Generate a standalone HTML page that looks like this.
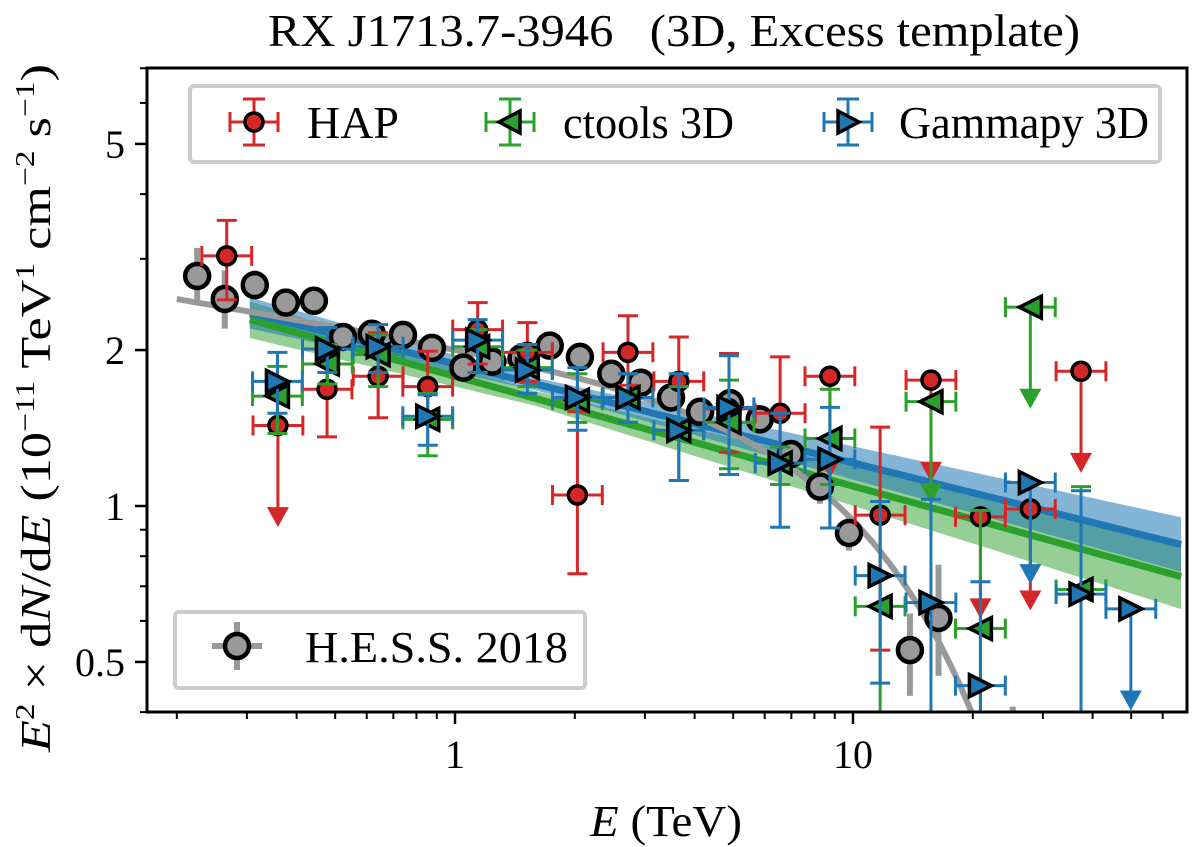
<!DOCTYPE html>
<html><head><meta charset="utf-8"><style>
html,body{margin:0;background:#fff;overflow:hidden;width:1200px;height:847px}
svg{display:block}
text{font-family:"Liberation Serif",serif;fill:#000}
</style></head><body>
<div style="position:relative;width:1200px;height:847px;overflow:hidden">
<svg id="chart" width="1200" height="847" viewBox="0 0 1200 847" xmlns="http://www.w3.org/2000/svg" style="position:absolute;left:0;top:0">
<text x="268" y="46" font-size="46" textLength="812" lengthAdjust="spacingAndGlyphs" xml:space="preserve">RX J1713.7-3946   (3D, Excess template)</text>
<g id="plot"></g>
<g id="axes"></g>
</svg>
<svg width="1200" height="847" style="position:absolute;left:0;top:0">
  <text x="590" y="836" font-size="44" textLength="152" lengthAdjust="spacingAndGlyphs"><tspan font-style="italic">E</tspan> (TeV)</text>
  <text transform="translate(50,752) rotate(-90)" font-size="42" textLength="688" lengthAdjust="spacingAndGlyphs"><tspan font-style="italic">E</tspan><tspan font-size="27" dy="-16">2</tspan><tspan dy="16"> × d</tspan><tspan font-style="italic">N</tspan>/d<tspan font-style="italic">E</tspan>  (10<tspan font-size="27" dy="-16">−11</tspan><tspan dy="16"> TeV</tspan><tspan font-size="27" dy="-16">1</tspan><tspan dy="16"> cm</tspan><tspan font-size="27" dy="-16">−2</tspan><tspan dy="16"> s</tspan><tspan font-size="27" dy="-16">−1</tspan><tspan dy="16">)</tspan></text>
  <g>
    <rect x="190" y="86" width="970" height="76" rx="4" fill="#fff" fill-opacity="0.8" stroke="#ccc" stroke-width="4"/>
    <g>
      <line x1="230" x2="278" y1="122" y2="122" stroke="#d62728" stroke-width="3"/>
      <line x1="230" x2="230" y1="112" y2="132" stroke="#d62728" stroke-width="3"/>
      <line x1="278" x2="278" y1="112" y2="132" stroke="#d62728" stroke-width="3"/>
      <line x1="254" x2="254" y1="99" y2="145" stroke="#d62728" stroke-width="3"/>
      <line x1="243" x2="265" y1="99" y2="99" stroke="#d62728" stroke-width="3"/>
      <line x1="243" x2="265" y1="145" y2="145" stroke="#d62728" stroke-width="3"/>
      <circle cx="254" cy="122" r="9" fill="#d62728" stroke="#000" stroke-width="3.5"/>
      <text x="307" y="138" font-size="46" textLength="92" lengthAdjust="spacingAndGlyphs">HAP</text>
    </g>
    <g>
      <line x1="486" x2="534" y1="122" y2="122" stroke="#2ca02c" stroke-width="3"/>
      <line x1="486" x2="486" y1="112" y2="132" stroke="#2ca02c" stroke-width="3"/>
      <line x1="534" x2="534" y1="112" y2="132" stroke="#2ca02c" stroke-width="3"/>
      <line x1="510" x2="510" y1="99" y2="145" stroke="#2ca02c" stroke-width="3"/>
      <line x1="499" x2="521" y1="99" y2="99" stroke="#2ca02c" stroke-width="3"/>
      <line x1="499" x2="521" y1="145" y2="145" stroke="#2ca02c" stroke-width="3"/>
      <polygon points="499,122 520,111 520,133" fill="#2ca02c" stroke="#000" stroke-width="3.5"/>
      <text x="563" y="138" font-size="46" textLength="171" lengthAdjust="spacingAndGlyphs">ctools 3D</text>
    </g>
    <g>
      <line x1="824" x2="872" y1="122" y2="122" stroke="#1f77b4" stroke-width="3"/>
      <line x1="824" x2="824" y1="112" y2="132" stroke="#1f77b4" stroke-width="3"/>
      <line x1="872" x2="872" y1="112" y2="132" stroke="#1f77b4" stroke-width="3"/>
      <line x1="848" x2="848" y1="99" y2="145" stroke="#1f77b4" stroke-width="3"/>
      <line x1="837" x2="859" y1="99" y2="99" stroke="#1f77b4" stroke-width="3"/>
      <line x1="837" x2="859" y1="145" y2="145" stroke="#1f77b4" stroke-width="3"/>
      <polygon points="859,122 838,111 838,133" fill="#1f77b4" stroke="#000" stroke-width="3.5"/>
      <text x="899" y="138" font-size="46" textLength="250" lengthAdjust="spacingAndGlyphs">Gammapy 3D</text>
    </g>
  </g>
  <g>
    <rect x="175" y="612" width="410" height="76" rx="4" fill="#fff" fill-opacity="0.8" stroke="#ccc" stroke-width="4"/>
    <g>
      <line x1="212" x2="262" y1="646" y2="646" stroke="#999" stroke-width="6"/>
      <line x1="237" x2="237" y1="622" y2="670" stroke="#999" stroke-width="6"/>
      <circle cx="237" cy="646" r="12" fill="#999" stroke="#000" stroke-width="4.5"/>
      <text x="305" y="662" font-size="44" textLength="263" lengthAdjust="spacingAndGlyphs">H.E.S.S. 2018</text>
    </g>
  </g>
</svg>
</div>
<script>
// ---- data ----
const hessE = [0.225,0.264,0.314,0.376,0.442,0.523,0.618,0.740,0.875,1.05,1.24,1.47,1.73,2.06,2.47,2.93,3.49,4.13,4.91,5.83,6.98,8.26,9.77,13.9,16.4,25.2];
const hessF = [2.78,2.51,2.67,2.47,2.49,2.12,2.15,2.14,2.02,1.85,1.90,1.93,2.04,1.94,1.80,1.73,1.62,1.52,1.58,1.47,1.26,1.09,0.887,0.527,0.608,0.30];
const hessLo = [2.45,2.20,2.50,2.35,2.38,2.05,2.07,2.06,1.95,1.79,1.83,1.86,1.96,1.87,1.73,1.66,1.55,1.45,1.50,1.39,1.18,1.01,0.82,0.43,0.47,0.30];
const hessHi = [3.15,2.85,2.85,2.60,2.60,2.20,2.23,2.22,2.10,1.91,1.97,2.00,2.12,2.01,1.87,1.80,1.69,1.59,1.66,1.55,1.34,1.17,0.95,0.62,0.77,0.41];

const hapE = [0.267,0.359,0.477,0.641,0.854,1.14,1.52,2.03,2.72,3.65,4.88,6.56,8.75,11.7,15.7,20.9,27.9,37.4];
const hapF = [3.04,1.43,1.68,1.78,1.70,2.19,1.98,1.05,1.98,1.74,1.54,1.51,1.78,0.96,1.75,0.953,0.987,1.82];
const hapLo = [2.50,null,1.36,1.48,1.45,1.88,1.74,0.74,1.71,1.43,1.27,1.10,null,0.527,null,null,null,null];
const hapHi = [3.56,null,2.05,2.16,1.99,2.47,2.26,1.52,2.33,2.12,1.97,1.94,null,1.42,null,null,null,null];
const hapUL = [0,1,0,0,0,0,0,0,0,0,0,0,1,0,1,1,1,1];

const ctE = [0.358,0.478,0.641,0.854,1.14,1.52,2.03,2.72,3.65,4.88,6.56,8.75,11.7,15.7,20.9,27.9,37.4];
const ctF = [1.63,1.88,1.96,1.47,2.03,1.85,1.60,1.62,1.40,1.45,1.21,1.35,0.64,1.59,0.58,2.42,0.69];
const ctLo = [1.38,1.72,1.70,1.25,1.81,1.70,1.45,1.45,1.12,1.18,1.10,1.10,0.30,null,0.30,null,0.30];
const ctHi = [1.86,2.04,2.14,1.65,2.19,2.00,1.80,1.80,1.70,1.75,1.30,1.68,1.02,null,0.98,null,1.09];
const ctUL = [0,0,0,0,0,0,0,0,0,0,0,0,0,1,0,1,0];

const gpE = [0.358,0.478,0.641,0.854,1.14,1.52,2.03,2.72,3.65,4.88,6.56,8.75,11.7,15.7,20.9,27.9,37.4,49.9];
const gpF = [1.74,2.01,2.03,1.49,2.09,1.83,1.62,1.62,1.40,1.55,1.21,1.23,0.734,0.651,0.45,1.11,0.676,0.633];
const gpLo = [1.51,1.81,1.81,1.31,1.81,1.65,1.40,1.45,1.12,1.15,0.91,0.907,0.455,0.30,0.30,null,0.30,null];
const gpHi = [1.98,2.21,2.24,1.64,2.29,2.05,1.85,1.80,1.80,1.95,1.51,1.55,1.02,1.03,0.714,null,1.07,null];
const gpUL = [0,0,0,0,0,0,0,0,0,0,0,0,0,0,0,1,0,1];

const blueModel = {norm:1.88, index:0.191};
const greenModel = {norm:1.78, index:0.212};
const hessModel = {norm:2.04, index:0.13, ecut:17, beta:1.39};

const xTicks = [1,10];
const xTickLabels = ["1","10"];
const yTicks = [0.5,1,2,5];
const yTickLabels = ["0.5","1","2","5"];

// ---- axes ----
const L=147,R=1187,T=68,B=712;
const X0=455, XD=398, Y0=506, YD=518;
const xs = e => X0 + XD*Math.log10(e);
const ys = f => Y0 - YD*Math.log10(f);
const NS="http://www.w3.org/2000/svg";
const plot=document.getElementById('plot'), axes=document.getElementById('axes');
function mk(tag, attrs, parent){const el=document.createElementNS(NS,tag);for(const k in attrs)el.setAttribute(k,attrs[k]);parent.appendChild(el);return el;}

const defs=mk('defs',{},plot);
const cp=mk('clipPath',{id:'clip'},defs);
mk('rect',{x:L,y:T,width:R-L,height:B-T},cp);
const g=mk('g',{'clip-path':'url(#clip)'},plot);

function band(m, a, b, color, op, name){
  let up=[],dn=[];
  for(let le=Math.log10(0.305); le<=Math.log10(68)+1e-9; le+=0.02){
    const e=Math.pow(10,le); const f=m.norm*Math.pow(e,-m.index);
    const w=a+b*Math.abs(le-0.2);
    up.push(xs(e).toFixed(1)+','+ys(f*Math.pow(10,w)).toFixed(1));
    dn.unshift(xs(e).toFixed(1)+','+ys(f/Math.pow(10,w)).toFixed(1));
  }
  const p=mk('polygon',{points:up.concat(dn).join(' '),fill:color,'fill-opacity':op},g);
  
  
}
function pline(m, color, name){
  let pts=[];
  for(let le=Math.log10(0.305); le<=Math.log10(68)+1e-9; le+=0.02){const e=Math.pow(10,le);pts.push(xs(e).toFixed(1)+','+ys(m.norm*Math.pow(e,-m.index)).toFixed(1));}
  const p=mk('polyline',{points:pts.join(' '),fill:'none',stroke:color,'stroke-width':7},g);
  
  
}
band(greenModel,0.014,0.03,'#2ca02c',0.5,'ctools-band');
band(blueModel,0.012,0.025,'#1f77b4',0.55,'gammapy-band');
pline(greenModel,'#2ca02c','ctools-model-line');
pline(blueModel,'#1f77b4','gammapy-model-line');

{
  let pts=[];
  for(let le=Math.log10(0.2); le<=Math.log10(40); le+=0.01){const e=Math.pow(10,le);
    const f=hessModel.norm*Math.pow(e,-hessModel.index)*Math.exp(-Math.pow(e/hessModel.ecut,hessModel.beta));
    pts.push(xs(e).toFixed(1)+','+ys(f).toFixed(1));}
  const p=mk('polyline',{points:pts.join(' '),fill:'none',stroke:'#999','stroke-width':6},g);
  
  
}

for(let i=0;i<hessE.length;i++){
  const x=xs(hessE[i]), y=ys(hessF[i]);
  const gg=mk('g',{},g);
  
  
  mk('line',{x1:x,x2:x,y1:ys(hessHi[i]),y2:ys(hessLo[i]),stroke:'#999','stroke-width':6},gg);
  mk('line',{x1:xs(hessE[i]/1.08),x2:xs(hessE[i]*1.08),y1:y,y2:y,stroke:'#999','stroke-width':6},gg);
  mk('circle',{cx:x,cy:y,r:12,fill:'#999',stroke:'#000','stroke-width':4.5},gg);
}

function marker(type,x,y,color,parent){
  if(type==='o') return mk('circle',{cx:x,cy:y,r:9,fill:color,stroke:'#000','stroke-width':3.5},parent);
  const s=11;
  const pts = type==='<' ? [[x-s,y],[x+s,y-s],[x+s,y+s]] : [[x+s,y],[x-s,y-s],[x-s,y+s]];
  return mk('polygon',{points:pts.map(p=>p.join(',')).join(' '),fill:color,stroke:'#000','stroke-width':3.5},parent);
}
function series(E,F,Lo,Hi,UL,color,mt,name){
  for(let i=0;i<E.length;i++){
    const x=xs(E[i]), y=ys(F[i]);
    const gg=mk('g',{},g);
    
    
    const x1=xs(E[i]/1.155), x2=xs(E[i]*1.155);
    mk('line',{x1:x1,x2:x2,y1:y,y2:y,stroke:color,'stroke-width':3},gg);
    mk('line',{x1:x1,x2:x1,y1:y-10,y2:y+10,stroke:color,'stroke-width':3},gg);
    mk('line',{x1:x2,x2:x2,y1:y-10,y2:y+10,stroke:color,'stroke-width':3},gg);
    if(UL[i]){
      const ye=ys(F[i]/1.55);
      mk('line',{x1:x,x2:x,y1:y,y2:ye-14,stroke:color,'stroke-width':3},gg);
      mk('polygon',{points:`${x-11},${ye-17} ${x+11},${ye-17} ${x},${ye+3}`,fill:color},gg);
    } else {
      const yh=ys(Hi[i]), yl=ys(Lo[i]);
      mk('line',{x1:x,x2:x,y1:yh,y2:yl,stroke:color,'stroke-width':3},gg);
      mk('line',{x1:x-10,x2:x+10,y1:yh,y2:yh,stroke:color,'stroke-width':3},gg);
      mk('line',{x1:x-10,x2:x+10,y1:yl,y2:yl,stroke:color,'stroke-width':3},gg);
    }
    marker(mt,x,y,color,gg);
  }
}
series(hapE,hapF,hapLo,hapHi,hapUL,'#d62728','o','hap');
series(ctE,ctF,ctLo,ctHi,ctUL,'#2ca02c','<','ctools');
series(gpE,gpF,gpLo,gpHi,gpUL,'#1f77b4','>','gammapy');

mk('rect',{x:L,y:T,width:R-L,height:B-T,fill:'none',stroke:'#000','stroke-width':3},axes);
for(let d=0.1; d<100; d*=10){
  for(let k=1;k<10;k++){
    const e=d*k; if(e<0.168||e>69) continue;
    const x=xs(e); const major=(k===1);
    mk('line',{x1:x,x2:x,y1:B,y2:B+(major?12:7),stroke:'#000','stroke-width':major?2.5:2},axes);
  }
}
xTicks.forEach((t,i)=>{const tx=mk('text',{x:xs(t),y:B+56,'font-size':40,'text-anchor':'middle'},axes);tx.textContent=xTickLabels[i];
  
  });
[0.4,0.5,0.6,0.7,0.8,0.9,1,2,3,4,5,6,7].forEach(v=>{
  const y=ys(v); if(y<T-1||y>B+1) return;
  const major=yTicks.includes(v);
  mk('line',{x1:L,x2:L-(major?12:7),y1:y,y2:y,stroke:'#000','stroke-width':major?2.5:2},axes);
});
yTicks.forEach((t,i)=>{const tx=mk('text',{x:L-22,y:ys(t)+14,'font-size':40,'text-anchor':'end'},axes);tx.textContent=yTickLabels[i];
  
  });
</script>
</body></html>
